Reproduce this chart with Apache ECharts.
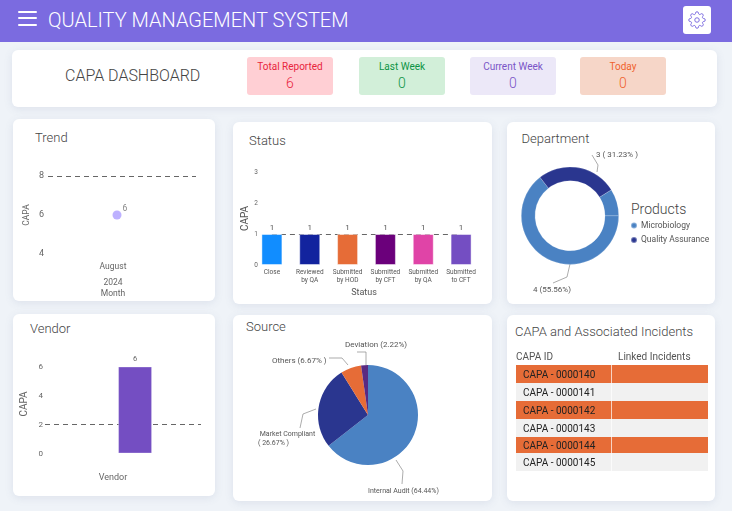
<!DOCTYPE html>
<html>
<head>
<meta charset="utf-8">
<title>CAPA Dashboard</title>
<script src="https://cdn.jsdelivr.net/npm/echarts@6/dist/echarts.min.js"></script>
<style>
  html, body { margin: 0; padding: 0; width: 732px; height: 511px; overflow: hidden; background: #eff3f8; font-family: Roboto, sans-serif; }
  .abs { position: absolute; }
  #header { left: 0; top: 0; width: 732px; height: 42px; background: #7b6be0; }
  #header .bar { position: absolute; left: 18px; width: 19px; height: 2px; background: #fff; border-radius: 1px; }
  #appTitle { left: 48px; top: 6px; line-height: 28px; font-size: 20px; font-weight: 300; color: #fff; white-space: nowrap; }
  #settings { left: 683px; top: 6px; width: 28px; height: 28px; background: #fff; border-radius: 3px; }
  #settings svg { position: absolute; left: 5px; top: 5px; width: 18px; height: 18px; fill: none; stroke: #7b6be0; stroke-width: 1.3; }
  .card { position: absolute; background: #fff; border-radius: 6px; box-shadow: 0 2px 8px rgba(90,110,150,.12); }
  .cardTitle { position: absolute; font-size: 13px; font-weight: 300; color: #444; line-height: 16px; white-space: nowrap; }
  #dashTitle { left: 65px; top: 66px; line-height: 20px; font-size: 16px; font-weight: 300; color: #444; white-space: nowrap; }
  .tile { position: absolute; top: 57px; height: 38px; width: 86px; border-radius: 3px; text-align: center; }
  .tile .t { position: absolute; left: 0; right: 0; top: 3px; line-height: 14px; font-size: 10px; }
  .tile .v { position: absolute; left: 0; right: 0; top: 17px; line-height: 18px; font-size: 14px; font-weight: 300; }
  #main { position: absolute; left: 0; top: 0; width: 732px; height: 511px; }
  #capaTable { position: absolute; left: 516px; top: 349px; width: 192px; font-size: 10px; }
  #capaTable .head { position: absolute; top: 0; line-height: 16px; color: #555; white-space: nowrap; }
  #capaTable .row { position: absolute; left: 0; width: 192px; color: #222; }
  #capaTable .row span { position: absolute; left: 7px; top: 0.5px; white-space: nowrap; }
  #capaTable .row i { position: absolute; left: 95px; top: 0; bottom: 0; width: 1px; background: #fff; opacity: .7; }
</style>
</head>
<body>
<div id="header" class="abs">
  <div class="bar" style="top:11px"></div>
  <div class="bar" style="top:17px"></div>
  <div class="bar" style="top:24px"></div>
  <div id="appTitle" class="abs">QUALITY MANAGEMENT SYSTEM</div>
  <div id="settings" class="abs">
    <svg viewBox="0 0 24 24"><circle cx="12" cy="12" r="3"/><path d="M19.4 15a1.65 1.65 0 0 0 .33 1.82l.06.06a2 2 0 0 1 0 2.83 2 2 0 0 1-2.83 0l-.06-.06a1.65 1.65 0 0 0-1.82-.33 1.65 1.65 0 0 0-1 1.51V21a2 2 0 0 1-2 2 2 2 0 0 1-2-2v-.09A1.65 1.65 0 0 0 9 19.4a1.65 1.65 0 0 0-1.82.33l-.06.06a2 2 0 0 1-2.83 0 2 2 0 0 1 0-2.83l.06-.06a1.65 1.65 0 0 0 .33-1.82 1.65 1.65 0 0 0-1.51-1H3a2 2 0 0 1-2-2 2 2 0 0 1 2-2h.09A1.65 1.65 0 0 0 4.6 9a1.65 1.65 0 0 0-.33-1.82l-.06-.06a2 2 0 0 1 0-2.83 2 2 0 0 1 2.83 0l.06.06a1.65 1.65 0 0 0 1.82.33H9a1.65 1.65 0 0 0 1-1.51V3a2 2 0 0 1 2-2 2 2 0 0 1 2 2v.09a1.65 1.65 0 0 0 1 1.51 1.65 1.65 0 0 0 1.82-.33l.06-.06a2 2 0 0 1 2.83 0 2 2 0 0 1 0 2.83l-.06.06a1.65 1.65 0 0 0-.33 1.82V9a1.65 1.65 0 0 0 1.51 1H21a2 2 0 0 1 2 2 2 2 0 0 1-2 2h-.09a1.65 1.65 0 0 0-1.51 1z"/></svg>
  </div>
</div>

<div class="card" style="left:12px;top:50px;width:705px;height:57px"></div>
<div id="dashTitle" class="abs">CAPA DASHBOARD</div>
<div id="tiles"></div>

<div class="card" style="left:13px;top:119px;width:202px;height:182px"></div>
<div class="card" style="left:233px;top:122px;width:259px;height:182px"></div>
<div class="card" style="left:507px;top:122px;width:208px;height:182px"></div>
<div class="card" style="left:13px;top:314px;width:202px;height:182px"></div>
<div class="card" style="left:233px;top:315px;width:259px;height:186px"></div>
<div class="card" style="left:507px;top:315px;width:208px;height:186px"></div>

<div class="cardTitle" style="left:35px;top:130px">Trend</div>
<div class="cardTitle" style="left:249px;top:133px">Status</div>
<div class="cardTitle" style="left:521.5px;top:131px">Department</div>
<div class="cardTitle" style="left:30px;top:321px">Vendor</div>
<div class="cardTitle" style="left:246px;top:319px">Source</div>
<div class="cardTitle" style="left:515px;top:324px">CAPA and Associated Incidents</div>
<div class="cardTitle" style="left:631px;top:201px;font-size:14px">Products</div>

<div id="main"></div>
<div id="capaTable"></div>

<script>
var tileTitles = ['Total Reported', 'Last Week', 'Current Week', 'Today'];
var tileValues = [6, 0, 0, 0];

var trendMonths = ['August\n2024'];
var trendValues = [6];

var statusNames = ['Close', 'Reviewed\nby QA', 'Submitted\nby HOD', 'Submitted\nby CFT', 'Submitted\nby QA', 'Submitted\nto CFT'];
var statusValues = [1, 1, 1, 1, 1, 1];
var statusColors = ['#118dff', '#12239e', '#e66c37', '#6b007b', '#e044a7', '#744ec2'];

var vendorNames = ['Vendor'];
var vendorValues = [6];

var deptNames = ['Microbiology', 'Quality Assurance', 'Other'];
var deptValues = [64.44, 26.67, 8.89];
var deptLabels = ['4 (55.56%)', '3 ( 31.23% )', ''];

var sourceNames = ['Internal Audit', 'Market Compliant', 'Others', 'Deviation'];
var sourceValues = [64.44, 26.67, 6.67, 2.22];
var sourceLabels = ['Internal Audit (64.44%)', ' Market Compliant\n( 26.67% )', 'Others (6.67% )', 'Deviation (2.22%)'];

var capaIds = ['CAPA - 0000140', 'CAPA - 0000141', 'CAPA - 0000142', 'CAPA - 0000143', 'CAPA - 0000144', 'CAPA - 0000145'];

// tiles on top
var tileLook = [
  {left: 247, bg: '#ffcfd4', fg: '#e8243c'},
  {left: 359, bg: '#d2efd9', fg: '#0d9445'},
  {left: 470, bg: '#ece8f8', fg: '#7a55c7'},
  {left: 580, bg: '#f6d6c8', fg: '#f0622d'}
];
document.getElementById('tiles').innerHTML = tileTitles.map(function (t, i) {
  var l = tileLook[i];
  return '<div class="tile" style="left:' + l.left + 'px;background:' + l.bg + ';color:' + l.fg + '">' +
    '<div class="t">' + t + '</div><div class="v">' + tileValues[i] + '</div></div>';
}).join('');

// incidents table
var rowTops = [16, 34, 52, 70, 88, 104];
var rowHeights = [18, 18, 18, 18, 16, 18];
var tableHtml = '<div class="head" style="left:0">CAPA ID</div><div class="head" style="left:102px">Linked Incidents</div>';
capaIds.forEach(function (id, i) {
  tableHtml += '<div class="row" style="top:' + rowTops[i] + 'px;height:' + rowHeights[i] + 'px;line-height:' + rowHeights[i] + 'px;background:' +
    (i % 2 ? '#f1f1f1' : '#e66c37') + '"><span>' + id + '</span><i></i></div>';
});
document.getElementById('capaTable').innerHTML = tableHtml;

// charts
var dash = {type: [5, 4], color: '#666', width: 1};

var myChart = echarts.init(document.getElementById('main'), null, {renderer: 'canvas'});

function dashedLine(data) {
  return {silent: true, symbol: 'none', z: 1, label: {show: false}, lineStyle: dash, data: data};
}

var sourceSpots = [
  {x: 368, y: 491, pts: [[396, 460], [403, 471], [402, 484]]},
  {x: 258, y: 438.5, pts: [[316, 409], [303, 414], [300, 428]]},
  {x: 272, y: 361, pts: [[348, 365], [342, 358], [329, 358]]},
  {x: 345, y: 345, pts: [[366, 365], [366, 352], [357, 352]]}
];
var deptSpots = [
  {x: 533, y: 290, pts: [[570, 264], [567, 277], [553, 283]]},
  {x: 596, y: 155, pts: [[597, 172], [598, 165], [592, 155]]}
];

function spotLayout(spots) {
  return function (params) {
    var s = spots[params.dataIndex];
    if (!s) return {};
    return {x: s.x, y: s.y, align: 'left', verticalAlign: 'middle', labelLinePoints: s.pts};
  };
}

myChart.setOption({
  animation: false,
  textStyle: {fontFamily: 'Roboto'},
  legend: {
    left: 625, top: 216, orient: 'vertical', icon: 'circle',
    itemWidth: 6, itemHeight: 6, itemGap: 5.5,
    data: ['Microbiology', 'Quality Assurance'],
    textStyle: {fontSize: 8.5, color: '#555', padding: [0, 0, 0, -1]}
  },
  grid: [
    {left: 48, top: 176, width: 148, height: 78},
    {left: 253, top: 172, width: 227, height: 93},
    {left: 45, top: 366.5, width: 156, height: 87}
  ],
  xAxis: [
    {
      gridIndex: 0, type: 'category', data: trendMonths,
      axisLine: {show: false}, axisTick: {show: false},
      axisLabel: {fontSize: 8.5, color: '#666', lineHeight: 16, margin: 5, padding: [0, 18, 0, 0]},
      name: 'Month', nameLocation: 'middle', nameGap: 35, nameMoveOverlap: false,
      nameTextStyle: {fontSize: 8.5, color: '#666', padding: [0, 18, 0, 0]}
    },
    {
      gridIndex: 1, type: 'category', data: statusNames,
      axisLine: {show: false}, axisTick: {show: false},
      axisLabel: {fontSize: 6.5, color: '#555', interval: 0, lineHeight: 8, margin: 3},
      name: 'Status', nameLocation: 'middle', nameGap: 23, nameMoveOverlap: false,
      nameTextStyle: {fontSize: 9, color: '#555', padding: [0, 5, 0, 0]}
    },
    {
      gridIndex: 2, type: 'category', data: vendorNames,
      axisLine: {show: false}, axisTick: {show: false}, axisLabel: {show: false},
      name: 'Vendor', nameLocation: 'middle', nameGap: 20, nameMoveOverlap: false,
      nameTextStyle: {fontSize: 9, color: '#666', padding: [0, 20, 0, 0]}
    }
  ],
  yAxis: [
    {
      gridIndex: 0, type: 'value', min: 4, max: 8, interval: 2,
      axisLine: {show: false}, axisTick: {show: false}, splitLine: {show: false},
      axisLabel: {fontSize: 9, color: '#666', margin: 4},
      name: 'CAPA', nameLocation: 'middle', nameGap: 17, nameMoveOverlap: false,
      nameTextStyle: {fontSize: 8.5, color: '#666'}
    },
    {
      gridIndex: 1, type: 'value', min: 0, max: 3, interval: 1,
      axisLine: {show: false}, axisTick: {show: false}, splitLine: {show: false},
      axisLabel: {fontSize: 6.5, color: '#666', margin: -5},
      name: 'CAPA', nameLocation: 'middle', nameGap: 3, nameMoveOverlap: false,
      nameTextStyle: {fontSize: 10, color: '#555'}
    },
    {
      gridIndex: 2, type: 'value', min: 0, max: 6, interval: 2,
      axisLine: {show: false}, axisTick: {show: false}, splitLine: {show: false},
      axisLabel: {fontSize: 8, color: '#666', margin: 2},
      name: 'CAPA', nameLocation: 'middle', nameGap: 16, nameMoveOverlap: false,
      nameTextStyle: {fontSize: 10, color: '#666', padding: [0, 0, 0, 12]}
    }
  ],
  series: [
    {
      type: 'scatter', xAxisIndex: 0, yAxisIndex: 0, data: trendValues,
      symbolSize: 9, symbolOffset: [-5, 0], itemStyle: {color: '#ac9eff'},
      label: {show: true, position: 'top', offset: [8, 8], fontSize: 8.5, color: '#666'},
      markLine: dashedLine([{yAxis: 8}])
    },
    {
      type: 'bar', xAxisIndex: 1, yAxisIndex: 1, barWidth: 21, z: 2,
      data: statusValues.map(function (v, i) {
        return {value: v, itemStyle: {color: statusColors[i]}};
      }),
      itemStyle: {borderColor: 'rgba(255,255,255,.45)', borderWidth: 1},
      label: {show: true, position: 'top', distance: 2, fontSize: 8, color: '#555'},
      // runs from the first bar to the last one only
      markLine: dashedLine([[{coord: [0, 1]}, {coord: [5, 1]}]])
    },
    // empty neighbour only nudges the vendor bar to the right of the band centre
    {
      type: 'bar', xAxisIndex: 2, yAxisIndex: 2, barWidth: 34, barGap: '-29%', z: 2, data: [null]
    },
    {
      type: 'bar', xAxisIndex: 2, yAxisIndex: 2, barWidth: 34, barGap: '-29%', z: 2, data: vendorValues,
      itemStyle: {color: '#744ec2', borderColor: 'rgba(255,255,255,.3)', borderWidth: 1},
      label: {show: true, position: 'top', distance: 3, fontSize: 7.5, color: '#666'},
      markLine: dashedLine([{yAxis: 2}])
    },
    {
      type: 'pie', center: [570, 215.7], radius: [35, 48.7], startAngle: 0, clockwise: true,
      color: ['#4a82c3', '#2a368f', '#4a82c3'],
      data: deptNames.map(function (n, i) {
        return {name: n, value: deptValues[i], label: {show: !!deptLabels[i]}, labelLine: {show: !!deptLabels[i]}};
      }),
      label: {formatter: function (p) { return deptLabels[p.dataIndex]; }, fontSize: 8, color: '#555'},
      labelLine: {show: true, lineStyle: {color: '#888', width: .7}},
      labelLayout: spotLayout(deptSpots),
      itemStyle: {borderColor: 'rgba(255,255,255,.35)', borderWidth: .5},
      emphasis: {disabled: true}
    },
    {
      type: 'pie', center: [368, 415], radius: [0, 50], startAngle: 90,
      color: ['#4a82c3', '#2a368f', '#e66c37', '#5a2a82'],
      data: sourceNames.map(function (n, i) {
        return {name: n, value: sourceValues[i], label: {fontSize: i < 2 ? 7 : 8}};
      }),
      label: {formatter: function (p) { return sourceLabels[p.dataIndex]; }, lineHeight: 9, color: '#555'},
      labelLine: {show: true, lineStyle: {color: '#888', width: .7}},
      labelLayout: spotLayout(sourceSpots),
      emphasis: {disabled: true}
    }
  ]
});
</script>
</body>
</html>
